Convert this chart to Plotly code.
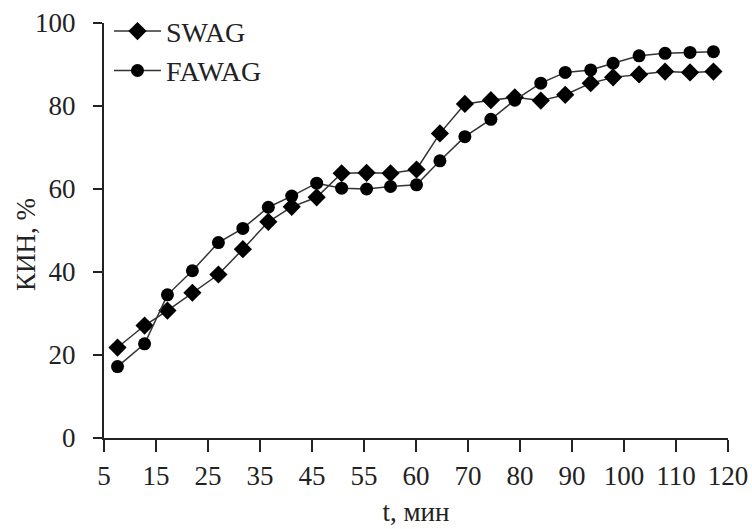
import plotly.graph_objects as go

# Tick labels of the (non-uniform) time axis, equally spaced on the chart
tick_labels = ["5", "15", "25", "35", "45", "55", "60", "70", "80", "90", "100", "110", "120"]

x_pos = [0.26, 0.78, 1.22, 1.70, 2.20, 2.67, 3.16, 3.61, 4.09, 4.57, 5.05, 5.51, 6.01,
         6.46, 6.94, 7.44, 7.90, 8.40, 8.87, 9.36, 9.79, 10.29, 10.79, 11.27, 11.72]

swag = [21.8, 27.1, 30.7, 35.0, 39.4, 45.5, 52.1, 55.7, 58.0, 63.8, 63.9, 63.8, 64.7,
        73.4, 80.5, 81.4, 82.1, 81.3, 82.7, 85.5, 86.9, 87.6, 88.3, 88.1, 88.3]

fawag = [17.2, 22.7, 34.5, 40.3, 47.1, 50.5, 55.6, 58.3, 61.4, 60.2, 60.0, 60.6, 61.0,
         66.8, 72.6, 76.8, 81.4, 85.5, 88.1, 88.7, 90.3, 92.1, 92.7, 92.9, 93.1]

FONT = "Liberation Serif, Times New Roman, serif"
TXT = "#222222"

fig = go.Figure()
fig.add_trace(go.Scatter(
    x=x_pos, y=swag, name="SWAG", mode="lines+markers",
    line=dict(color="#333333", width=1.5),
    marker=dict(symbol="diamond", size=14, color="black"),
))
fig.add_trace(go.Scatter(
    x=x_pos, y=fawag, name="FAWAG", mode="lines+markers",
    line=dict(color="#333333", width=1.5),
    marker=dict(symbol="circle", size=13, color="black"),
))

fig.update_layout(
    width=752, height=529,
    margin=dict(l=104, r=24, t=23, b=91, autoexpand=False),
    paper_bgcolor="white", plot_bgcolor="white",
    font=dict(family=FONT, size=27, color=TXT),
    showlegend=True,
    legend=dict(x=0.008, y=1.04, xanchor="left", yanchor="top",
                bgcolor="rgba(0,0,0,0)", font=dict(family=FONT, size=28, color=TXT),
                itemwidth=47, tracegroupgap=0),
    annotations=[dict(
        text="КИН, %", textangle=-90, xref="paper", yref="paper",
        x=-0.125, y=0.465, xanchor="center", yanchor="middle", showarrow=False,
        font=dict(family=FONT, size=27, color=TXT),
    )],
)
fig.update_xaxes(
    range=[0, 12], tickmode="array", tickvals=list(range(len(tick_labels))), ticktext=tick_labels,
    showline=True, linecolor="#222222", linewidth=2, mirror=False,
    ticks="outside", ticklen=12, tickwidth=2, tickcolor="#222222",
    showgrid=False, zeroline=False, automargin=False, ticklabelstandoff=1,
    tickfont=dict(family=FONT, size=27, color=TXT),
    title=dict(text="t, мин", font=dict(family=FONT, size=27, color=TXT), standoff=12),
)
fig.update_yaxes(
    range=[0, 100], tickmode="array", tickvals=[0, 20, 40, 60, 80, 100],
    showline=True, linecolor="#222222", linewidth=2,
    ticks="outside", ticklen=9, tickwidth=2, tickcolor="#222222",
    showgrid=False, zeroline=False, automargin=False, ticklabelstandoff=12,
    tickfont=dict(family=FONT, size=27, color=TXT),
)

fig.write_html("out.html", config={"displayModeBar": False},
               post_script="document.body.style.margin='0px';")
